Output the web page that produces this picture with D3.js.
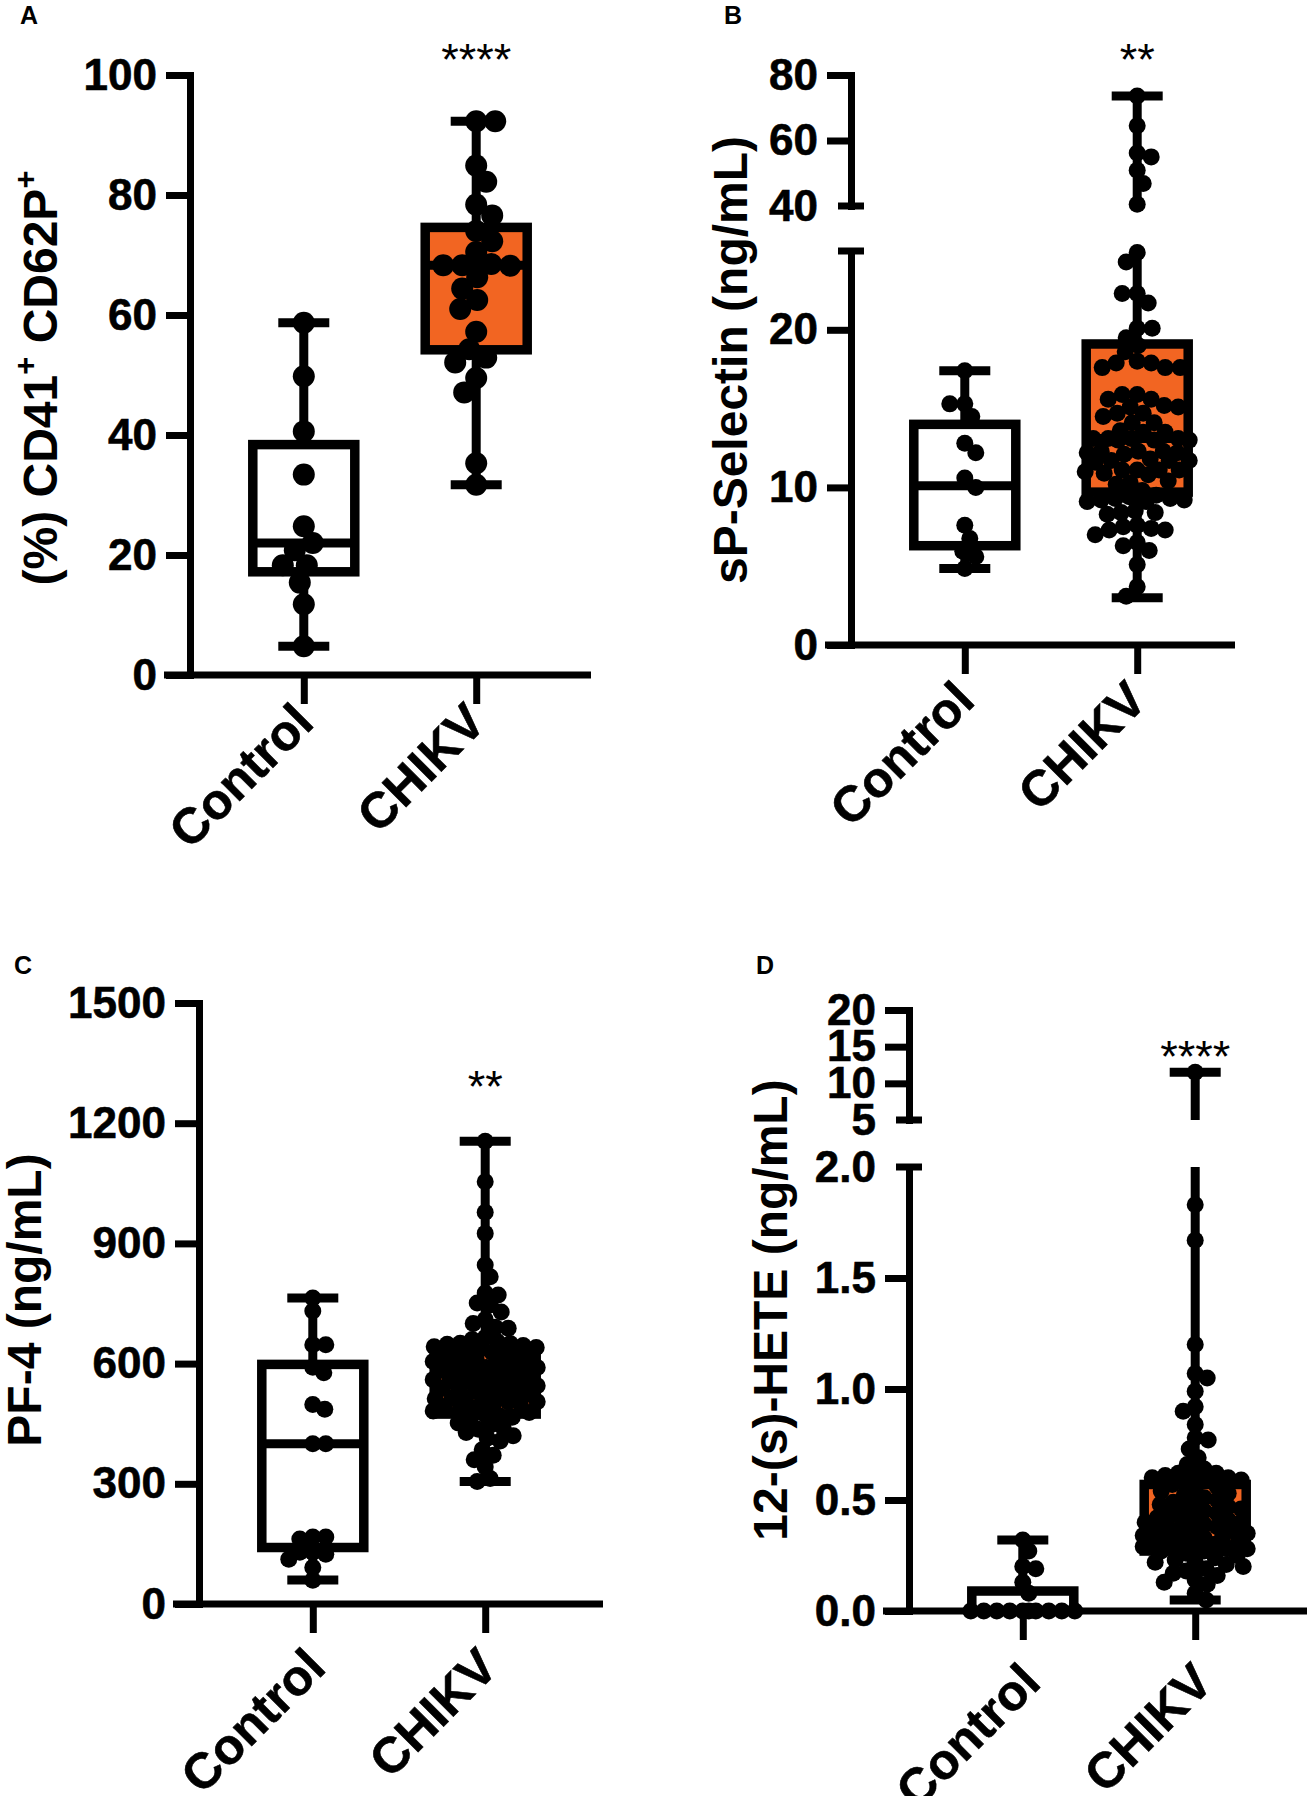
<!DOCTYPE html>
<html>
<head>
<meta charset="utf-8">
<script src="https://cdn.jsdelivr.net/npm/d3@7"></script>
<style>
  body { margin: 0; background: #fff; }
  svg { display: block; font-family: "Liberation Sans", Arial, sans-serif; }
</style>
</head>
<body>
<svg id="fig" width="1307" height="1796"></svg>
<script>
const groups = ["Control", "CHIKV"];

// A: (%) CD41+ CD62P+
const cd62pControl = [58.7, 49.8, 40.6, 33.4, 24.8, 22.0, 20.8, 18.3, 18.3, 15.4, 11.8, 4.8];
const cd62pChikv = [92.3, 92.3, 84.9, 82.2, 78.4, 76.6, 74.0, 72.3, 70.5, 68.5, 68.3, 68.3, 68.2,
  66.3, 64.4, 62.5, 61.0, 57.2, 54.3, 52.9, 52.1, 49.5, 47.1, 35.3, 31.7];
// min, q1, median, q3, max
const cd62pBox = [[4.8, 17.2, 22.0, 38.4, 58.7], [31.7, 54.2, 68.3, 74.6, 92.3]];
const cd62pTicks = [0, 20, 40, 60, 80, 100];

// B: sP-Selectin
const selControl = [17.4, 15.3, 15.3, 14.5, 12.8, 12.2, 10.6, 10.0, 7.6, 6.75, 5.95, 5.6, 4.85];
const selChikv = [73.6, 64.5, 56.2, 55.0, 50.9, 46.9, 40.5,
  24.9, 24.3, 22.3, 22.3, 21.7, 20.1, 20.1, 19.5, 19.0,
  18.6, 18.0, 17.9, 17.9, 17.6, 17.6, 17.6,
  15.9, 15.9, 15.6, 15.6, 15.2, 15.1, 15.1,
  14.7, 14.7, 14.5, 14.1, 14.1, 13.6, 13.5, 13.5,
  13.1, 13.1, 13.1, 13.1, 13.0, 13.0, 13.0,
  12.3, 12.3, 12.3, 12.2, 12.2, 12.1,
  11.8, 11.7, 11.7, 11.7, 11.6,
  11.1, 11.1, 11.1, 11.1, 11.0, 10.9, 10.8,
  10.4, 10.3, 10.2, 9.8,
  9.5, 9.4, 9.3, 9.3, 9.2, 9.2, 9.1, 9.1,
  8.5, 8.4, 8.4, 8.3,
  7.6, 7.5, 7.4, 7.3, 7.3, 7.0,
  6.5, 6.3, 6.0, 5.1, 3.7, 3.1];
const selBox = [[4.85, 6.3, 10.1, 14.0, 17.4], [3.0, 9.7, 13.1, 19.1, 73.6]];
const selTicksLow = [0, 10, 20];
const selTicksHigh = [40, 60, 80];
const selSegLow = [0, 25];
const selSegHigh = [40, 80];

// C: PF-4
const pf4Control = [764, 731, 647, 647, 591, 577, 498, 486, 400, 400, 167, 167, 162, 129, 129, 124, 112, 91, 59];
const pf4Chikv = [1155, 1054, 978, 925, 846, 817, 776, 771, 751, 746, 729, 710, 700, 691, 688,
  665, 660, 655, 651, 650, 648, 645, 642, 640,
  636, 632, 628, 625, 620, 620, 616, 612, 609, 605, 601, 600,
  596, 592, 590, 590, 587, 584, 580, 577, 575, 574, 570, 566, 562, 560, 558, 555, 552,
  548, 545, 542, 538, 534, 530, 527, 524, 520, 516, 515, 512, 508, 505, 504, 500,
  497, 493, 490, 486, 482, 478, 474, 470,
  466, 460, 452, 446, 440, 436, 428, 420, 414, 407,
  385, 371, 360, 342, 313, 306];
const pf4Box = [[60, 141, 400, 598, 764], [306, 474, 548, 633, 1155]];
const pf4Ticks = [0, 300, 600, 900, 1200, 1500];

// D: 12-(s)-HETE
const heteControl = [0.32, 0.27, 0.20, 0.19, 0.13, 0.08, 0, 0, 0, 0, 0, 0, 0, 0, 0, 0];
const heteChikv = [11.5, 1.83, 1.67, 1.20, 1.07, 1.05, 0.99, 0.92, 0.90, 0.84, 0.78, 0.77, 0.73, 0.69, 0.66,
  0.64, 0.62, 0.62, 0.61, 0.61, 0.60, 0.60, 0.59, 0.59, 0.58,
  0.57, 0.56, 0.55, 0.54, 0.53, 0.52, 0.51, 0.50, 0.49, 0.48, 0.48, 0.47, 0.46, 0.45, 0.45, 0.44,
  0.43, 0.42, 0.42, 0.41, 0.40, 0.40, 0.39, 0.39, 0.38, 0.38, 0.37, 0.36, 0.36, 0.35, 0.35, 0.34,
  0.33, 0.33, 0.32, 0.32, 0.31, 0.31, 0.30, 0.30, 0.29, 0.29, 0.28, 0.28, 0.27, 0.27,
  0.26, 0.25, 0.24, 0.23, 0.22, 0.22, 0.21, 0.20, 0.19, 0.18, 0.17, 0.16, 0.14, 0.13, 0.12, 0.08, 0.05];
const heteBox = [[0, 0, 0, 0.09, 0.32], [0.05, 0.27, 0.38, 0.57, 11.5]];
const heteTicksLow = [0, 0.5, 1.0, 1.5, 2.0];
const heteTicksHigh = [5, 10, 15, 20];
const heteSegLow = [0, 2];
const heteSegHigh = [5, 20];

const sigLabels = ["****", "**", "**", "****"];
const sigAt = [100, 80, 1252, 11.6];

const ORANGE = "#F26522";
const svg = d3.select("#fig");

const panels = [
  { letter: "A", lx: 20, ly: 24, axisX: 190, xEnd: 591, r: 11, spread: 1.7, lab: [12, 50],
    segs: [{ domain: [0, 100], range: [675, 75], ticks: cd62pTicks, fmt: d3.format("d") }],
    data: [cd62pControl, cd62pChikv], box: cd62pBox, sig: 0,
    title: "(%) CD41|+| CD62P|+", tx: 57, ty: 378 },
  { letter: "B", lx: 724, ly: 24, axisX: 851, xEnd: 1235, r: 8.5, spread: 1.65, lab: [12, 58],
    segs: [{ domain: selSegLow, range: [645, 251], ticks: selTicksLow, fmt: d3.format("d"), breakTop: true },
           { domain: selSegHigh, range: [206, 75], ticks: selTicksHigh, fmt: d3.format("d"), breakBottom: true }],
    data: [selControl, selChikv], box: selBox, sig: 1,
    title: "sP-Selectin (ng/mL)", tx: 747, ty: 360 },
  { letter: "C", lx: 14, ly: 974, axisX: 199, xEnd: 603, r: 8.5, spread: 1.45, lab: [15, 66],
    segs: [{ domain: [0, 1500], range: [1604, 1003], ticks: pf4Ticks, fmt: d3.format("d") }],
    data: [pf4Control, pf4Chikv], box: pf4Box, sig: 2,
    title: "PF-4 (ng/mL)", tx: 41, ty: 1300 },
  { letter: "D", lx: 756, ly: 974, axisX: 909, xEnd: 1307, r: 8.5, spread: 1.45, lab: [20, 74],
    segs: [{ domain: heteSegLow, range: [1611, 1167], ticks: heteTicksLow, fmt: d3.format(".1f"), breakTop: true },
           { domain: heteSegHigh, range: [1120, 1010], ticks: heteTicksHigh, fmt: d3.format("d"), breakBottom: true }],
    data: [heteControl, heteChikv], box: heteBox, sig: 3,
    title: "12-(s)-HETE (ng/mL)", tx: 787, ty: 1310 }
];

// value -> pixel across a (possibly broken) axis
function makeY(segs) {
  const scales = segs.map(s => d3.scaleLinear().domain(s.domain).range(s.range));
  const f = v => {
    for (const sc of scales) {
      const [a, b] = sc.domain();
      if (v >= a && v <= b) return sc(v);
    }
    // in the gap: snap to the nearer segment
    const best = d3.least(scales, sc => Math.min(Math.abs(v - sc.domain()[0]), Math.abs(v - sc.domain()[1])));
    return best(Math.max(best.domain()[0], Math.min(best.domain()[1], v)));
  };
  f.scales = scales;
  return f;
}

// simple beeswarm, lets dots overlap a little like the original
function swarm(values, y, r, maxW, spread) {
  const minD = r * spread;
  const pts = values.map(v => ({ v, py: y(v), dx: 0 })).sort((a, b) => a.py - b.py);
  const placed = [];
  pts.forEach((p, k) => {
    const near = placed.filter(q => Math.abs(q.py - p.py) < minD);
    let best = 0, bestScore = -Infinity, found = false;
    for (let s = 0; s <= maxW && !found; s += 1) {
      const cands = k % 2 ? [s, -s] : [-s, s];
      for (const dx of cands) {
        const md = near.length ? d3.min(near, q => Math.hypot(q.dx - dx, q.py - p.py)) : Infinity;
        if (md >= minD) { best = dx; found = true; break; }
        if (md > bestScore) { bestScore = md; best = dx; }
      }
    }
    p.dx = best;
    placed.push(p);
  });
  return pts;
}

panels.forEach(p => {
  const g = svg.append("g");
  const y = makeY(p.segs);
  const base = p.segs[0].range[0];
  const x = d3.scalePoint().domain(groups).range([p.axisX, p.axisX + 400]).padding(0.66);
  const boxW = 102;

  // panel letter
  g.append("text").attr("x", p.lx).attr("y", p.ly)
    .attr("font-size", 25).attr("font-weight", "bold").text(p.letter);

  // y axis segments
  p.segs.forEach((s, i) => {
    const ax = g.append("g").attr("transform", `translate(${p.axisX},0)`)
      .call(d3.axisLeft(y.scales[i]).tickValues(s.ticks).tickSize(24).tickSizeOuter(0)
        .tickPadding(9).tickFormat(s.fmt));
    ax.select(".domain").attr("stroke", "#000").attr("stroke-width", 7).attr("stroke-linecap", "square");
    ax.selectAll(".tick line").attr("stroke", "#000").attr("stroke-width", 7);
    ax.selectAll(".tick text").attr("fill", "#000").attr("font-size", 44).attr("font-weight", "bold")
      .attr("stroke", "#000").attr("stroke-width", 0.6)
      .attr("font-family", "Liberation Sans, Arial, sans-serif");
    // break ends get a short centred cap instead of a tick
    const ends = [];
    if (s.breakTop) ends.push(s.domain[1]);
    if (s.breakBottom) ends.push(s.domain[0]);
    ax.selectAll(".tick line").filter(d => ends.includes(d)).attr("x2", 0).attr("stroke-width", 0);
    ends.forEach(v => {
      ax.append("line").attr("x1", -13).attr("x2", 13)
        .attr("y1", y.scales[i](v)).attr("y2", y.scales[i](v))
        .attr("stroke", "#000").attr("stroke-width", 7);
    });
  });

  // x axis
  g.append("line").attr("x1", p.axisX - 26).attr("x2", p.xEnd).attr("y1", base).attr("y2", base)
    .attr("stroke", "#000").attr("stroke-width", 7);
  const xa = g.append("g").attr("transform", `translate(0,${base})`)
    .call(d3.axisBottom(x).tickSize(29).tickSizeOuter(0).tickFormat(""));
  xa.select(".domain").remove();
  xa.selectAll(".tick line").attr("stroke", "#000").attr("stroke-width", 7);

  groups.forEach(gr => {
    g.append("text")
      .attr("transform", `translate(${x(gr) + p.lab[0]},${base + p.lab[1]}) rotate(-45)`)
      .attr("text-anchor", "end").attr("font-size", 50).attr("font-weight", "bold")
      .attr("stroke", "#000").attr("stroke-width", 0.6).text(gr);
  });

  // y title (| marks superscript pieces)
  const t = g.append("text")
    .attr("transform", `translate(${p.tx},${p.ty}) rotate(-90)`)
    .attr("text-anchor", "middle").attr("font-size", 48).attr("font-weight", "bold");
  const parts = p.title.split("|");
  parts.forEach((txt, i) => {
    const sup = i % 2 === 1;
    t.append("tspan").text(txt)
      .attr("font-size", sup ? 31 : 48)
      .attr("dy", i === 0 ? 0 : (sup ? -21 : 21));
  });

  // boxes and whiskers
  const [lowSeg, highSeg] = p.segs;
  groups.forEach((gr, gi) => {
    const [mn, q1, med, q3, mx] = p.box[gi];
    const cx = x(gr);
    const wl = (a, b) => g.append("line").attr("x1", cx).attr("x2", cx).attr("y1", a).attr("y2", b)
      .attr("stroke", "#000").attr("stroke-width", 9);
    if (highSeg && mx > lowSeg.domain[1]) {
      wl(y(q3), y(lowSeg.domain[1]));
      wl(y(highSeg.domain[0]), y(mx));
    } else {
      wl(y(q3), y(mx));
    }
    wl(y(q1), y(mn));
    [mn, mx].forEach(v => {
      g.append("line").attr("x1", cx - boxW / 4).attr("x2", cx + boxW / 4)
        .attr("y1", y(v)).attr("y2", y(v)).attr("stroke", "#000").attr("stroke-width", 9);
    });
    g.append("rect").attr("x", cx - boxW / 2).attr("width", boxW)
      .attr("y", y(q3)).attr("height", Math.max(0, y(q1) - y(q3)))
      .attr("fill", gi === 1 ? ORANGE : "#fff").attr("stroke", "#000").attr("stroke-width", 9.5);
    g.append("line").attr("x1", cx - boxW / 2).attr("x2", cx + boxW / 2)
      .attr("y1", y(med)).attr("y2", y(med)).attr("stroke", "#000").attr("stroke-width", 9);
  });

  // dots
  groups.forEach((gr, gi) => {
    const pts = swarm(p.data[gi], y, p.r, boxW / 2 + 1, p.spread);
    g.append("g").selectAll("circle").data(pts).join("circle")
      .attr("cx", d => x(gr) + d.dx).attr("cy", d => d.py).attr("r", p.r).attr("fill", "#000");
  });

  // significance
  g.append("text").attr("x", x("CHIKV")).attr("y", y(sigAt[p.sig]))
    .attr("text-anchor", "middle").attr("font-size", 45).text(sigLabels[p.sig]);
});
</script>
</body>
</html>
